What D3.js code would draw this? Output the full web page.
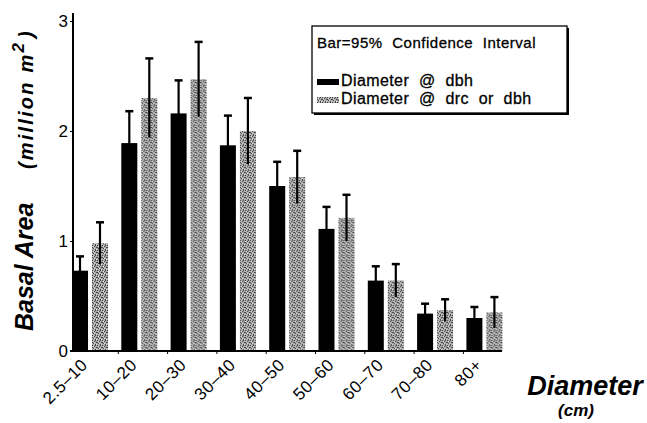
<!DOCTYPE html>
<html>
<head>
<meta charset="UTF-8">
<style>
  body { margin: 0; background: #fff; }
  svg { display: block; }
  text { font-family: "Liberation Sans", Arial, sans-serif; fill: #000; }
</style>
</head>
<body>
<svg></svg>
<script src="https://d3js.org/d3.v7.min.js"></script>
<script>

let width = 647, height = 423;

// data (million m2)
const classes = ["2.5\u201310", "10\u201320", "20\u201330", "30\u201340", "40\u201350", "50\u201360", "60\u201370", "70\u201380", "80+"];
const dbhValues = [0.73, 1.89, 2.16, 1.87, 1.50, 1.11, 0.64, 0.34, 0.30];
const dbhCI     = [0.13, 0.29, 0.30, 0.27, 0.22, 0.20, 0.13, 0.09, 0.10];
const drcValues = [0.98, 2.30, 2.47, 2.00, 1.58, 1.21, 0.64, 0.37, 0.35];
const drcCI     = [0.19, 0.36, 0.34, 0.30, 0.24, 0.21, 0.15, 0.10, 0.14];
const yTicks = [0, 1, 2, 3];
const seriesNames = ["Diameter @ dbh", "Diameter @ drc or dbh"];

let svg = d3.select("svg").attr("width", width).attr("height", height);

// stippled gray fill
let defs = svg.append("defs");
let pat = defs.append("pattern").attr("id", "stip")
  .attr("width", 5).attr("height", 5).attr("patternUnits", "userSpaceOnUse");
pat.append("rect").attr("width", 5).attr("height", 5).attr("fill", "#acacac");
[[0,0],[2,1],[4,2],[1,3],[3,4],[3,0],[0,2]].forEach(p => {
  pat.append("rect").attr("x", p[0]).attr("y", p[1]).attr("width", 1).attr("height", 1).attr("fill", "#444");
});
[[1,1],[4,4],[2,3]].forEach(p => {
  pat.append("rect").attr("x", p[0]).attr("y", p[1]).attr("width", 1).attr("height", 1).attr("fill", "#ddd");
});

let y = d3.scaleLinear().domain([0, 3]).range([351, 21]);
let x0 = d3.scaleBand().domain(classes).range([67, 67 + 9 * 49.3]);
let x1 = d3.scaleBand().domain(["dbh", "drc"]).range([5, 41]).paddingInner(0.2);

let rows = classes.map((c, i) => ({
  cls: c,
  bars: [
    {key: "dbh", v: dbhValues[i], ci: dbhCI[i]},
    {key: "drc", v: drcValues[i], ci: drcCI[i]}
  ]
}));

let groups = svg.append("g").selectAll("g").data(rows).enter().append("g")
  .attr("transform", d => "translate(" + x0(d.cls) + ",0)");

groups.selectAll("rect").data(d => d.bars).enter().append("rect")
  .attr("x", d => x1(d.key))
  .attr("y", d => y(d.v))
  .attr("width", x1.bandwidth())
  .attr("height", d => y(0) - y(d.v))
  .attr("fill", d => d.key == "dbh" ? "#000" : "url(#stip)");

// error bars
let err = groups.selectAll("g.err").data(d => d.bars).enter().append("g").attr("class", "err");
err.append("line")
  .attr("x1", d => x1(d.key) + x1.bandwidth() / 2)
  .attr("x2", d => x1(d.key) + x1.bandwidth() / 2)
  .attr("y1", d => y(d.v - d.ci))
  .attr("y2", d => y(d.v + d.ci))
  .attr("stroke", "#000").attr("stroke-width", 2.2);
err.append("line")
  .attr("x1", d => x1(d.key) + x1.bandwidth() / 2 - 4)
  .attr("x2", d => x1(d.key) + x1.bandwidth() / 2 + 4)
  .attr("y1", d => y(d.v + d.ci))
  .attr("y2", d => y(d.v + d.ci))
  .attr("stroke", "#000").attr("stroke-width", 2.5);

// axes
let yAxis = svg.append("g").attr("transform", "translate(73,0)")
  .call(d3.axisLeft(y).tickValues(yTicks).tickSize(3).tickFormat(d3.format("d")));
yAxis.select(".domain").attr("d", "M0,13V352").attr("stroke-width", 2);
yAxis.selectAll("text").attr("font-size", 17).attr("x", -5);

let xAxis = svg.append("g").attr("transform", "translate(0,351)")
  .call(d3.axisBottom(x0).tickSize(0).tickFormat(""));
xAxis.select(".domain").attr("d", "M70,0H502").attr("stroke-width", 2.2);
// little ticks between groups
xAxis.selectAll(".gtick").data(classes.slice(1)).enter().append("line")
  .attr("x1", d => x0(d) + 2).attr("x2", d => x0(d) + 2)
  .attr("y1", 0).attr("y2", 3).attr("stroke", "#000").attr("stroke-width", 1);

// rotated class labels
svg.append("g").selectAll("text").data(classes).enter().append("text")
  .attr("transform", d => "translate(" + (x0(d) + x0.bandwidth() / 2 - 3) + ",366) rotate(-45)")
  .attr("text-anchor", "end")
  .attr("font-size", 17)
  .attr("letter-spacing", 0.5)
  .text(d => d);

// axis titles
svg.append("text")
  .attr("transform", "translate(33,331) rotate(-90)")
  .attr("font-size", 25).attr("font-weight", "bold").attr("font-style", "italic")
  .text("Basal Area");
let ml = svg.append("text")
  .attr("transform", "translate(33,169) rotate(-90)")
  .attr("font-size", 20).attr("font-weight", "bold").attr("font-style", "italic")
  .attr("letter-spacing", 2.2);
ml.append("tspan").text("(million m");
ml.append("tspan").attr("dy", -9).attr("font-size", 17).text("2");
ml.append("tspan").attr("dy", 9).attr("dx", 3).text(")");

svg.append("text").attr("x", 585).attr("y", 395).attr("text-anchor", "middle")
  .attr("font-size", 27).attr("font-weight", "bold").attr("font-style", "italic")
  .text("Diameter");
svg.append("text").attr("x", 576).attr("y", 416).attr("text-anchor", "middle")
  .attr("font-size", 17).attr("font-weight", "bold").attr("font-style", "italic")
  .text("(cm)");

// legend
let lg = svg.append("g").attr("transform", "translate(312,26)");
lg.append("rect").attr("x", 2).attr("y", 2).attr("width", 255).attr("height", 87).attr("fill", "#000");
lg.append("rect").attr("width", 255).attr("height", 87).attr("fill", "#fff")
  .attr("stroke", "#000").attr("stroke-width", 1.3);
lg.append("text").attr("x", 5).attr("y", 22).attr("font-size", 15).attr("word-spacing", 5)
  .attr("letter-spacing", 0.5)
  .attr("stroke", "#000").attr("stroke-width", 0.3)
  .text("Bar=95% Confidence Interval");
let li = lg.selectAll("g.item").data(seriesNames).enter().append("g")
  .attr("transform", (d, i) => "translate(5," + (53 + i * 18) + ")");
li.append("rect").attr("width", 22).attr("height", 6)
  .attr("fill", (d, i) => i == 0 ? "#000" : "url(#stip)");
li.append("text").attr("x", 24).attr("y", 7).attr("font-size", 16).attr("word-spacing", 5)
  .attr("letter-spacing", 0.4)
  .attr("stroke", "#000").attr("stroke-width", 0.3)
  .text(d => d);

</script>
</body>
</html>
